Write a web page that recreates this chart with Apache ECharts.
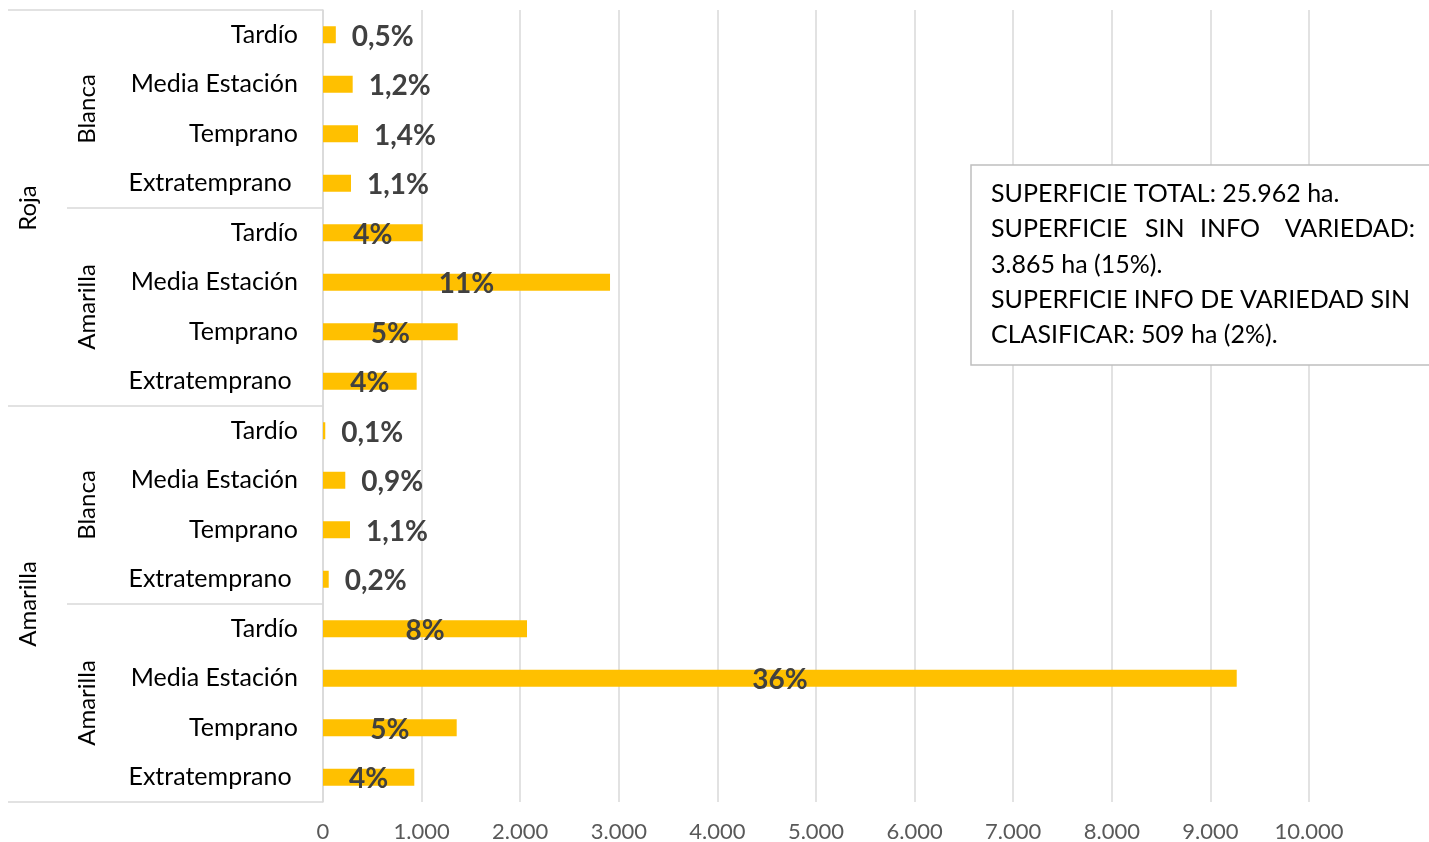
<!DOCTYPE html>
<html>
<head>
<meta charset="utf-8">
<script src="https://cdn.jsdelivr.net/npm/echarts@6/dist/echarts.min.js"></script>
<style>
  html, body { margin: 0; padding: 0; background: #fff; }
  #chart { width: 1429px; height: 842px; }
</style>
</head>
<body>
<div id="chart"></div>
<script>
// categorias (de arriba a abajo)
var variedades = ['Tardío', 'Media Estación', 'Temprano', 'Extratemprano ',
                  'Tardío', 'Media Estación', 'Temprano', 'Extratemprano ',
                  'Tardío', 'Media Estación', 'Temprano', 'Extratemprano ',
                  'Tardío', 'Media Estación', 'Temprano', 'Extratemprano ']
var pulpa = ['Blanca', 'Amarilla', 'Blanca', 'Amarilla']
var piel = ['Roja', 'Amarilla']

// superficie (ha)
var superficie = [130, 301, 355, 284, 1011, 2911, 1366, 950,
                  23, 226, 274, 58, 2069, 9267, 1356, 926]
var porcentajes = ['0,5%', '1,2%', '1,4%', '1,1%', '4%', '11%', '5%', '4%',
                   '0,1%', '0,9%', '1,1%', '0,2%', '8%', '36%', '5%', '4%']

var notas = [
    'SUPERFICIE TOTAL: 25.962 ha.',
    ['SUPERFICIE', 'SIN', 'INFO', 'VARIEDAD:'],
    '3.865 ha (15%).',
    'SUPERFICIE INFO DE VARIEDAD SIN',
    'CLASIFICAR: 509 ha (2%).'
]

var font = 'Lato, "Open Sans", sans-serif'
var gris = '#d9d9d9'

var myChart = echarts.init(document.getElementById('chart'))

var datos = superficie.map(function (v, i) {
    var dentro = v > 800
    return {
        value: v,
        label: {
            position: dentro ? 'inside' : 'right',
            distance: 16,
            formatter: porcentajes[i]
        }
    }
})

// cuadro de texto
var lineY = [194, 229, 265, 300, 335]
var palabrasX = [991, 1145, 1200, 1272]
var textos = []
notas.forEach(function (n, i) {
    if (Array.isArray(n)) {
        n.forEach(function (w, j) {
            var ultimo = j == n.length - 1
            textos.push({
                type: 'text',
                x: ultimo ? 1415 : palabrasX[j],
                y: lineY[i],
                style: { text: w, fontFamily: font, fontSize: 25, fill: '#000',
                         align: ultimo ? 'right' : 'left', verticalAlign: 'middle' }
            })
        })
    } else {
        textos.push({
            type: 'text', x: 991, y: lineY[i],
            style: { text: n, fontFamily: font, fontSize: 25, fill: '#000',
                     align: 'left', verticalAlign: 'middle' }
        })
    }
})

var option = {
    animation: false,
    backgroundColor: '#fff',
    grid: {
        left: 323,
        right: 120,
        top: 10,
        bottom: 40,
        outerBoundsMode: 'none'
    },
    xAxis: {
        type: 'value',
        min: 0,
        max: 10000,
        interval: 1000,
        axisLine: { show: false },
        axisTick: { show: false },
        axisLabel: {
            color: '#595959',
            fontFamily: font,
            fontSize: 22,
            margin: 19,
            formatter: function (v) {
                return String(v).replace(/\B(?=(\d{3})+(?!\d))/g, '.')
            }
        },
        splitLine: { show: true, lineStyle: { color: gris, width: 1.5 } }
    },
    yAxis: [
        {
            type: 'category',
            position: 'left',
            inverse: true,
            data: variedades,
            axisLine: { show: true, lineStyle: { color: gris, width: 1.5 } },
            axisTick: { show: false },
            axisLabel: {
                interval: 0,
                color: '#000',
                fontFamily: font,
                fontSize: 25,
                margin: 25,
                padding: [3, 0, 0, 0]
            }
        },
        {
            type: 'category',
            position: 'left',
            offset: 0,
            inverse: true,
            data: pulpa,
            axisLine: { show: false },
            axisTick: { show: true, length: 256, lineStyle: { color: gris, width: 1.5 } },
            axisLabel: {
                interval: 0,
                rotate: 90,
                color: '#000',
                fontFamily: font,
                fontSize: 24,
                margin: 224
            }
        },
        {
            type: 'category',
            position: 'left',
            offset: 0,
            inverse: true,
            data: piel,
            axisLine: { show: false },
            axisTick: { show: true, length: 315, lineStyle: { color: gris, width: 1.5 } },
            axisLabel: {
                interval: 0,
                rotate: 90,
                color: '#000',
                fontFamily: font,
                fontSize: 24,
                margin: 283
            }
        }
    ],
    series: [
        {
            type: 'bar',
            yAxisIndex: 0,
            barWidth: 17,
            data: datos,
            itemStyle: { color: '#FFC000' },
            label: {
                show: true,
                color: '#404040',
                fontFamily: font,
                fontWeight: 'bold',
                fontSize: 28,
                offset: [0, 2]
            }
        }
    ],
    graphic: [
        {
            type: 'group',
            z: 100,
            children: [
                {
                    type: 'rect',
                    z: 100,
                    shape: { x: 971, y: 165, width: 470, height: 200 },
                    style: { fill: '#fff', stroke: '#bfbfbf', lineWidth: 1.5 }
                }
            ].concat(textos.map(function (t) { t.z = 101; return t }))
        }
    ]
}

myChart.setOption(option)
</script>
</body>
</html>
